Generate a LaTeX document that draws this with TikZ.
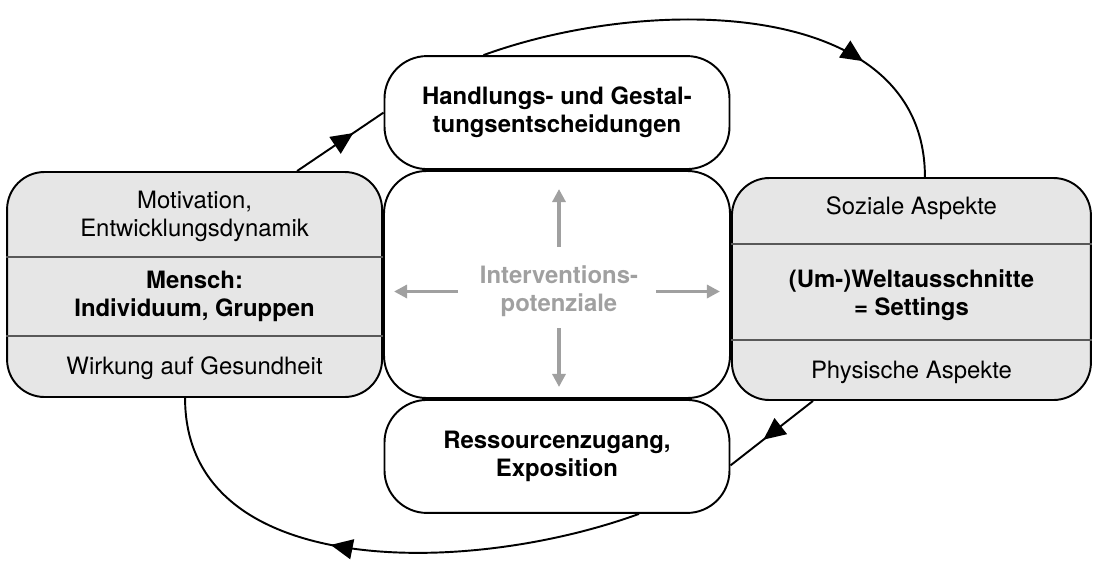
\documentclass[tikz,border=0pt]{standalone}
\usepackage{fontspec}
\setmainfont{TeX Gyre Heros}
\usetikzlibrary{
  arrows.meta,
  positioning,
  decorations.markings
}
\definecolor{BoxGrey}{RGB}{230,230,230}
\definecolor{PotGrey}{RGB}{160,160,160}

\begin{document}
\begin{tikzpicture}[
  node distance=0pt,
  font=\fontsize{13.6}{16}\selectfont,
  box/.style={rectangle, rounded corners=0.85cm, draw, line width=1.1pt,
              align=center},
  wbox/.style={box, minimum width=6.9cm, minimum height=2.26cm,
               font=\fontsize{13.6}{16}\selectfont\bfseries},
  gbox/.style={box, fill=BoxGrey, rounded corners=0.75cm, minimum height=4.5cm},
  sep/.style={line width=0.8pt, color=black!65},
  txt/.style={align=center, inner sep=0pt},
  btxt/.style={txt, font=\fontsize{13.6}{16}\selectfont\bfseries},
  arr/.style={line width=1.1pt, postaction={decorate},
              decoration={markings, mark=at position #1 with
                {\arrow{Triangle[length=0.44cm, width=0.4cm]}}}},
  arr/.default=0.5,
  garr/.style={-{Triangle[length=0.26cm, width=0.26cm]}, line width=1.8pt,
               color=PotGrey}
]
\useasboundingbox (0,0) rectangle (21.96,-11.22);

\node[box, minimum width=6.92cm, minimum height=4.54cm] (centre) at (11.14,-5.69) {};
\node[wbox, above=of centre] (handlung) {Handlungs- und Gestal-\\tungsentscheidungen};
\node[wbox, below=of centre] (ressource) {Ressourcenzugang,\\Exposition};
\node[gbox, minimum width=7.5cm, left=of centre]  (mensch) {};
\node[gbox, minimum width=7.18cm, minimum height=4.44cm,
      right=of centre, yshift=-0.09cm]            (setting) {};

\draw[sep] ([yshift=0.55cm]mensch.west)  -- ([yshift=0.55cm]mensch.east);
\draw[sep] ([yshift=-1.03cm]mensch.west) -- ([yshift=-1.03cm]mensch.east);
\draw[sep] ([yshift=0.9cm]setting.west)   -- ([yshift=0.9cm]setting.east);
\draw[sep] ([yshift=-1.02cm]setting.west) -- ([yshift=-1.02cm]setting.east);

\node[txt]  (motiv)   at ([yshift=1.36cm]mensch.center)  {Motivation,\\Entwicklungsdynamik};
\node[btxt] (individ) at ([yshift=-0.23cm]mensch.center) {Mensch:\\Individuum, Gruppen};
\node[txt]  (wirkung) at ([yshift=-1.67cm]mensch.center) {Wirkung auf Gesundheit};
\node[txt]  (sozial)  at ([yshift=1.61cm]setting.center)  {Soziale Aspekte};
\node[btxt] (umwelt)  at ([yshift=-0.13cm]setting.center) {(Um-)Weltausschnitte\\= Settings};
\node[txt]  (physis)  at ([yshift=-1.67cm]setting.center) {Physische Aspekte};

\node[btxt, text=PotGrey] (ip) at ([xshift=0.04cm, yshift=-0.14cm]centre.center)
      {Interventions-\\potenziale};

\draw[garr, shorten <=0.89cm, shorten >=0.38cm] (ip.center) -- (ip.center |- centre.north);
\draw[garr, shorten <=0.73cm, shorten >=0.24cm] (ip.center) -- (ip.center |- centre.south);
\draw[garr, shorten <=2.02cm, shorten >=0.22cm] (ip.center) -- (ip.center -| centre.west);
\draw[garr, shorten <=1.94cm, shorten >=0.22cm] (ip.center) -- (ip.center -| centre.east);

\draw[arr=0.65] ([xshift=2.05cm]mensch.north) -- (handlung.west);
\draw[arr=0.74] ([xshift=-1.47cm]handlung.north) to[out=20, in=90]
                ([xshift=0.27cm]setting.north);
\draw[arr=0.6]  ([xshift=-1.97cm]setting.south) -- ([yshift=-0.18cm]ressource.east);
\draw[arr=0.58] ([xshift=1.64cm]ressource.south) to[out=200, in=270]
                ([xshift=-0.19cm]mensch.south);

\end{tikzpicture}
\end{document}
